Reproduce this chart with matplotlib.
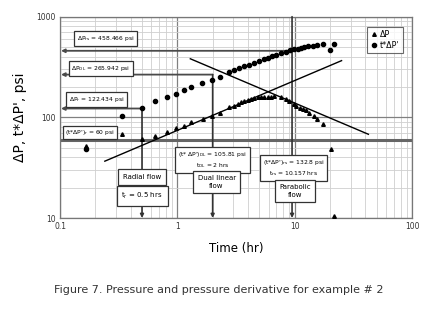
import numpy as np
import matplotlib
matplotlib.use("Agg")
import matplotlib.pyplot as plt

plt.rcParams['font.family'] = ['DejaVu Sans']
plt.rcParams['mathtext.default'] = 'regular'

# --------------------data------------------
tri_t = [0.166, 0.335, 0.495, 0.65, 0.82, 0.98, 1.14, 1.31, 1.64, 1.98,
         2.3, 2.78, 3.07, 3.28, 3.49, 3.73, 3.98, 4.25, 4.53, 4.84, 5.17,
         5.5, 5.87, 6.26, 6.7, 7.65, 8.43, 9.0, 9.9, 10.2, 11.0, 11.7,
         12.5, 13.3, 14.7, 15.6, 17.3, 20.5, 21.8]
tri_v = [52, 69, 61, 66, 72, 78, 83, 89, 96, 102,
         111, 126, 131, 136, 141, 145, 150, 153, 156, 159, 160,
         161, 161, 160, 163, 158, 151, 145, 135, 131, 125, 121,
         117, 111, 103, 97, 85, 49, 10.5]

circ_t = [0.166, 0.335, 0.495, 0.65, 0.81, 0.98, 1.15, 1.3, 1.62, 1.98,
          2.33, 2.75, 3.07, 3.38, 3.73, 4.06, 4.53, 4.99, 5.5, 5.87, 6.4,
          6.9, 7.65, 8.43, 9.2, 9.9, 10.6, 11.3, 12.1, 12.9, 14.2, 15.6,
          17.3, 20.0, 21.8]
circ_v = [49, 102, 124, 144, 159, 172, 187, 199, 218, 237,
          253, 281, 295, 311, 323, 333, 349, 364, 376, 390, 405,
          421, 436, 451, 465, 473, 482, 492, 500, 508, 516, 524,
          530, 469, 540]

# straight-line fits (end points)
up_t = [0.241, 25.1]
up_v = [36.7, 366]
down_t = [1.29, 42.5]
down_v = [382, 67.9]

# characteristic values
dp_rs, dp_dl, dp_r, der_r = 458.466, 265.942, 122.434, 60
t_r, t_dl, t_rs = 0.5, 2.0, 9.5

# ---------------------figure-----------------
fig = plt.figure(figsize=(4.37, 3.11), dpi=100)
ax = fig.add_axes([0.1373, 0.299, 0.8055, 0.6473])
ax.set_xscale('log')
ax.set_yscale('log')
ax.set_xlim(0.1, 100)
ax.set_ylim(10, 1000)

ax.grid(which='major', color='#808080', lw=0.9)
ax.grid(which='minor', color='#cfcfcf', lw=0.6)
ax.set_axisbelow(True)
for s in ax.spines.values():
    s.set_color('#777777')
    s.set_linewidth(0.9)
ax.tick_params(which='both', length=0, labelsize=5.5, colors='#333333', pad=3)
ax.set_xticks([0.1, 1, 10, 100])
ax.set_xticklabels(['0.1', '1', '10', '100'])
ax.set_yticks([10, 100, 1000])
ax.set_yticklabels(['10', '100', '1000'])

# thick line for (t*dP')r
ax.axhline(der_r, color='#666666', lw=2.2, zorder=2)

# horizontal arrows to the left axis
for t_end, v in [(t_rs, dp_rs), (t_dl, dp_dl), (t_r, dp_r)]:
    ax.annotate('', xy=(0.102, v), xytext=(t_end, v),
                arrowprops=dict(arrowstyle='-|>', color='#4a4a4a', lw=1.3,
                                mutation_scale=5, shrinkA=0, shrinkB=0),
                zorder=3)

# vertical arrows down to the bottom
for t, v0 in [(t_r, dp_r), (t_dl, dp_dl), (t_rs, 1000)]:
    ax.annotate('', xy=(t, 10), xytext=(t, v0),
                arrowprops=dict(arrowstyle='-|>', color='#333333', lw=1.2,
                                mutation_scale=5, shrinkA=0, shrinkB=0),
                zorder=3)

ax.plot(up_t, up_v, color='black', lw=1.0, zorder=4)
ax.plot(down_t, down_v, color='black', lw=1.0, zorder=4)

ax.plot(tri_t, tri_v, '^', color='black', ms=2.6, ls='none', label='ΔP', zorder=5)
ax.plot(circ_t, circ_v, 'o', color='black', ms=3.0, ls='none', label="t*ΔP'", zorder=5)

leg = ax.legend(loc='upper right', fontsize=5.8, frameon=True, fancybox=False,
                edgecolor='#444444', handletextpad=0.2, handlelength=1.0,
                borderpad=0.4, labelspacing=0.2, bbox_to_anchor=(0.985, 0.97))
leg.get_frame().set_linewidth(0.8)

box = dict(boxstyle='square,pad=0.45', fc='white', ec='#333333', lw=0.9)
fs = 4.3
ax.text(0.246, 606, 'ΔP$_{rs}$ = 458.466 psi', fontsize=fs, ha='center', va='center', bbox=box, zorder=6)
ax.text(0.223, 305, 'ΔP$_{DL}$ = 265.942 psi', fontsize=fs, ha='center', va='center', bbox=box, zorder=6)
ax.text(0.206, 151, 'ΔP$_{r}$ = 122.434 psi', fontsize=fs, ha='center', va='center', bbox=box, zorder=6)
ax.text(0.18, 71, "(t*ΔP')$_{r}$ = 60 psi", fontsize=fs, ha='center', va='center',
        bbox=dict(boxstyle='square,pad=0.3', fc='white', ec='#333333', lw=0.9), zorder=6)
ax.text(0.5, 25.5, 'Radial flow', fontsize=5, ha='center', va='center',
        bbox=dict(boxstyle='square,pad=0.7', fc='white', ec='#333333', lw=0.9), zorder=6)
ax.text(0.5, 16.5, 't$_{r}$ = 0.5 hrs', fontsize=5, ha='center', va='center',
        bbox=dict(boxstyle='square,pad=0.7', fc='white', ec='#333333', lw=0.9), zorder=6)
ax.text(2.0, 37.5, "(t* ΔP')$_{DL}$ = 105.81 psi\nt$_{DL}$ = 2 hrs", fontsize=fs,
        ha='center', va='center', linespacing=1.3,
        bbox=dict(boxstyle='square,pad=0.5', fc='white', ec='#333333', lw=0.9), zorder=6)
ax.text(2.16, 22.7, 'Dual linear\nflow', fontsize=5, ha='center', va='center',
        linespacing=1.4,
        bbox=dict(boxstyle='square,pad=0.6', fc='white', ec='#333333', lw=0.9), zorder=6)
ax.text(9.8, 31.3, "(t*ΔP')$_{rs}$ = 132.8 psi\nt$_{rs}$ = 10.157 hrs", fontsize=fs,
        ha='center', va='center', linespacing=1.3,
        bbox=dict(boxstyle='square,pad=0.5', fc='white', ec='#333333', lw=0.9), zorder=6)
ax.text(10.1, 18.5, 'Parabolic\nflow', fontsize=5, ha='center', va='center',
        linespacing=1.4,
        bbox=dict(boxstyle='square,pad=0.6', fc='white', ec='#333333', lw=0.9), zorder=6)

ax.set_xlabel('Time (hr)', fontsize=8.5, labelpad=8)
ax.set_ylabel("ΔP, t*ΔP', psi", fontsize=10, labelpad=7)

fig.text(0.5, 0.068, 'Figure 7. Pressure and pressure derivative for example # 2',
         fontsize=8, ha='center', va='center', color='#333333')

fig.savefig('out.png', dpi=100)
